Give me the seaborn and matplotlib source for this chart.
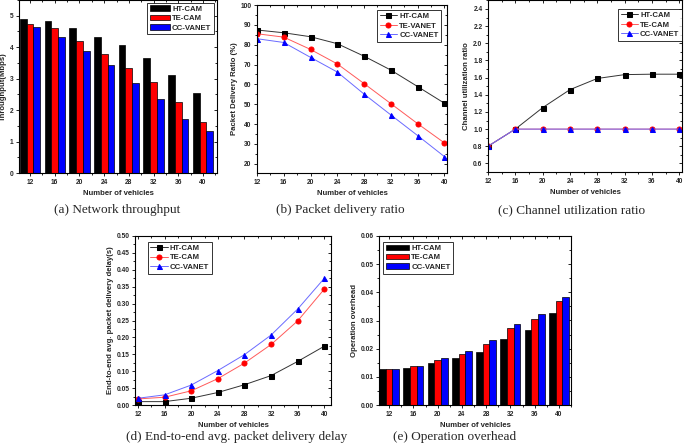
import numpy as np
import pandas as pd
import matplotlib
matplotlib.use("Agg")
import matplotlib.pyplot as plt
from matplotlib.ticker import MultipleLocator, FormatStrFormatter, FixedLocator, NullFormatter
import seaborn as sns

sns.set_theme(style="white")
plt.rcParams['font.family'] = ['Liberation Sans', 'DejaVu Sans']
plt.rcParams['font.weight'] = 'bold'

vehicles = [12, 16, 20, 24, 28, 32, 36, 40]
vehicle_labels = ["12", "16", "20", "24", "28", "32", "36", "40"]

# (a) Network throughput (Mbps)
thr_ht = [4.90, 4.83, 4.62, 4.32, 4.08, 3.65, 3.10, 2.53]
thr_te = [4.75, 4.62, 4.19, 3.78, 3.33, 2.88, 2.27, 1.63]
thr_cc = [4.63, 4.33, 3.87, 3.43, 2.87, 2.34, 1.73, 1.34]

# (b) Packet delivery ratio (%)
pdr_ht = [87.4, 86.0, 84.0, 80.5, 74.2, 67.2, 58.9, 50.5]
pdr_te = [85.5, 83.8, 77.6, 70.3, 60.4, 50.3, 40.2, 30.5]
pdr_cc = [83.0, 81.1, 73.6, 66.2, 55.1, 44.6, 34.2, 23.6]

# (c) Channel utilization ratio
cur_ht = [0.80, 1.00, 1.25, 1.46, 1.59, 1.635, 1.64, 1.64]
cur_te = [0.80, 1.00, 1.00, 1.00, 1.00, 1.00, 1.00, 1.00]
cur_cc = [0.80, 1.00, 1.00, 1.00, 1.00, 1.00, 1.00, 1.00]

# (d) End-to-end avg. packet delivery delay (s)
del_ht = [0.010, 0.010, 0.020, 0.037, 0.060, 0.087, 0.129, 0.174]
del_te = [0.018, 0.023, 0.042, 0.078, 0.124, 0.179, 0.249, 0.343]
del_cc = [0.020, 0.030, 0.059, 0.102, 0.149, 0.207, 0.284, 0.375]

# (e) Operation overhead
ovh_ht = [0.0128, 0.0133, 0.0149, 0.0168, 0.0189, 0.0233, 0.0265, 0.0325]
ovh_te = [0.0129, 0.0137, 0.0158, 0.0181, 0.0218, 0.0272, 0.0307, 0.0368]
ovh_cc = [0.0129, 0.0139, 0.0166, 0.0193, 0.0231, 0.0289, 0.0322, 0.0384]

BLACK, RED, BLUE = "#000000", "#ff0000", "#0000ff"
TICK_FS = 4.8
LAB_FS = 5.6
LEG_FS = 5.6
CAP_FS = 9.5

fig = plt.figure(figsize=(6.85, 4.48), dpi=100)
W, H = 685.0, 448.0

def make_ax(l, r, t, b):
    return fig.add_axes([l / W, 1 - b / H, (r - l) / W, (b - t) / H])

def style_ax(ax, xmaj, xmin, ymaj, ymin):
    ax.xaxis.set_major_locator(FixedLocator(xmaj))
    ax.xaxis.set_minor_locator(FixedLocator(xmin))
    ax.yaxis.set_major_locator(FixedLocator(ymaj))
    ax.yaxis.set_minor_locator(FixedLocator(ymin))
    for s in ax.spines.values():
        s.set_visible(True)
        s.set_color("black")
        s.set_linewidth(0.8)
    ax.tick_params(axis="both", which="both", direction="out", color="black",
                   labelsize=TICK_FS, width=0.6, pad=1.5,
                   bottom=True, left=True, top=False, right=False)
    ax.tick_params(which="major", length=2.5)
    ax.tick_params(which="minor", length=1.5)
    for lab in ax.get_xticklabels() + ax.get_yticklabels():
        lab.set_fontweight("bold")
    # inward ticks on top / right
    sx = ax.secondary_xaxis("top")
    sx.xaxis.set_major_locator(FixedLocator(xmaj))
    sx.xaxis.set_minor_locator(FixedLocator(xmin))
    sx.xaxis.set_major_formatter(NullFormatter())
    sx.tick_params(axis="x", which="both", direction="in", width=0.6, color="black")
    sx.tick_params(which="major", length=2.5)
    sx.tick_params(which="minor", length=1.5)
    sx.spines["top"].set_visible(False)
    sy = ax.secondary_yaxis("right")
    sy.yaxis.set_major_locator(FixedLocator(ymaj))
    sy.yaxis.set_minor_locator(FixedLocator(ymin))
    sy.yaxis.set_major_formatter(NullFormatter())
    sy.tick_params(axis="y", which="both", direction="in", width=0.6, color="black")
    sy.tick_params(which="major", length=2.5)
    sy.tick_params(which="minor", length=1.5)
    sy.spines["right"].set_visible(False)

def legend(ax, loc, bbox, hl=2.2):
    leg = ax.legend(loc=loc, bbox_to_anchor=bbox, fontsize=LEG_FS, frameon=True,
                    fancybox=False, borderpad=0.35, labelspacing=0.25,
                    handletextpad=0.3, borderaxespad=0.0, handlelength=hl)
    leg.get_frame().set_edgecolor("black")
    leg.get_frame().set_linewidth(0.7)
    for t in leg.get_texts():
        t.set_fontweight("bold")
    return leg

def bar_panel(ax, ht, te, cc, labels):
    df = pd.DataFrame({
        "veh": vehicle_labels * 3,
        "val": ht + te + cc,
        "series": [labels[0]] * 8 + [labels[1]] * 8 + [labels[2]] * 8,
    })
    sns.barplot(data=df, x="veh", y="val", hue="series", order=vehicle_labels,
                hue_order=labels, palette=[BLACK, RED, BLUE], ax=ax,
                width=0.82, edgecolor="black", linewidth=0.5, saturation=1)

def line_panel(ax, series, labels, lcolors, mcolors, markers, ms=3.6):
    for y, lab, lc, mc, mk in zip(series, labels, lcolors, mcolors, markers):
        sns.lineplot(x=vehicles, y=y, ax=ax, color=lc, linewidth=0.7, marker=mk,
                     markersize=ms, markerfacecolor=mc, markeredgecolor=mc,
                     label=lab)

cat_major = list(range(8))
cat_minor = list(np.arange(-0.5, 8, 1))
veh_minor = list(range(12, 41, 2))

# ---------------- (a) ----------------
ax = make_ax(19, 217, 0, 173)
bar_panel(ax, thr_ht, thr_te, thr_cc, ["HT-CAM", "TE-CAM", "CC-VANET"])
ax.set_xlim(-0.45, 7.57)
ax.set_ylim(0, 5.5)
ax.set_xlabel("Number of vehicles", fontsize=LAB_FS, fontweight="bold", labelpad=3)
ax.set_ylabel("Throughput(Mbps)", fontsize=LAB_FS, fontweight="bold", labelpad=2)
style_ax(ax, cat_major, cat_minor, list(range(0, 6)), list(np.arange(0.5, 5.6, 1.0)))
legend(ax, "upper right", (0.985, 0.985), hl=2.6)

# ---------------- (b) ----------------
ax = make_ax(257, 447, 5, 173)
line_panel(ax, [pdr_ht, pdr_te, pdr_cc], ["HT-CAM", "TE-VANET", "CC-VANET"],
           ["#333333", "#ff5a5a", "#6a6aff"], [BLACK, RED, BLUE], ["s", "o", "^"])
ax.set_xlim(12, 40.4)
ax.set_ylim(15.3, 100)
ax.set_xlabel("Number of vehicles", fontsize=LAB_FS, fontweight="bold", labelpad=3)
ax.set_ylabel("Packet Delivery Ratio (%)", fontsize=LAB_FS, fontweight="bold", labelpad=2)
style_ax(ax, vehicles, veh_minor, list(range(20, 101, 10)), list(range(15, 100, 10)))
legend(ax, "upper right", (0.97, 0.97))

# ---------------- (c) ----------------
ax = make_ax(488, 682, 0.4, 172)
line_panel(ax, [cur_ht, cur_te, cur_cc], ["HT-CAM", "TE-CAM", "CC-VANET"],
           ["#333333", "#ff5a5a", "#6a6aff"], [BLACK, RED, BLUE], ["s", "o", "^"])
ax.set_xlim(12, 40.4)
ax.set_ylim(0.5, 2.5)
ax.yaxis.set_major_formatter(FormatStrFormatter("%.1f"))
ax.set_xlabel("Number of vehicles", fontsize=LAB_FS, fontweight="bold", labelpad=3)
ax.set_ylabel("Channel utilization ratio", fontsize=LAB_FS, fontweight="bold", labelpad=2)
style_ax(ax, vehicles, veh_minor, list(np.round(np.arange(0.6, 2.41, 0.2), 1)),
         list(np.round(np.arange(0.5, 2.51, 0.2), 1)))
legend(ax, "upper right", (1.0, 0.95))

# ---------------- (d) ----------------
ax = make_ax(135, 331, 236, 405)
line_panel(ax, [del_ht, del_te, del_cc], ["HT-CAM", "TE-CAM", "CC-VANET"],
           ["#333333", "#ff5a5a", "#6a6aff"], [BLACK, RED, BLUE], ["s", "o", "^"])
ax.set_xlim(11.55, 41.0)
ax.set_ylim(0, 0.5)
ax.yaxis.set_major_formatter(FormatStrFormatter("%.2f"))
ax.set_xlabel("Number of vehicles", fontsize=LAB_FS, fontweight="bold", labelpad=3)
ax.set_ylabel("End-to-end avg. packet delivery delay(s)", fontsize=LAB_FS,
              fontweight="bold", labelpad=2)
style_ax(ax, vehicles, veh_minor, list(np.round(np.arange(0, 0.51, 0.05), 2)),
         list(np.round(np.arange(0.025, 0.5, 0.05), 3)))
legend(ax, "upper left", (0.065, 0.965))

# ---------------- (e) ----------------
ax = make_ax(379, 571, 236, 405)
bar_panel(ax, ovh_ht, ovh_te, ovh_cc, ["HT-CAM", "TE-CAM", "CC-VANET"])
ax.set_xlim(-0.42, 7.5)
ax.set_ylim(0, 0.06)
ax.yaxis.set_major_formatter(FormatStrFormatter("%.2f"))
ax.set_xlabel("Number of vehicles", fontsize=LAB_FS, fontweight="bold", labelpad=3)
ax.set_ylabel("Operation overhead", fontsize=LAB_FS, fontweight="bold", labelpad=2)
style_ax(ax, cat_major, cat_minor, list(np.round(np.arange(0, 0.061, 0.01), 2)),
         list(np.round(np.arange(0.005, 0.06, 0.01), 3)))
legend(ax, "upper left", (0.02, 0.965), hl=3.0)

# ---------------- captions ----------------
cap_kw = dict(fontsize=CAP_FS, family=["Liberation Serif", "DejaVu Serif"],
              fontweight="normal", ha="center", va="center")
fig.text(117 / W, 1 - 210 / H, "(a) Network throughput", **cap_kw)
fig.text(340 / W, 1 - 210 / H, "(b) Packet delivery ratio", **cap_kw)
fig.text(572 / W, 1 - 210 / H, "(c) Channel utilization ratio", **cap_kw)
fig.text(237 / W, 1 - 437 / H, "(d) End-to-end avg. packet delivery delay", **cap_kw)
fig.text(455 / W, 1 - 437 / H, "(e) Operation overhead", **cap_kw)

fig.savefig("out.png", dpi=100)
